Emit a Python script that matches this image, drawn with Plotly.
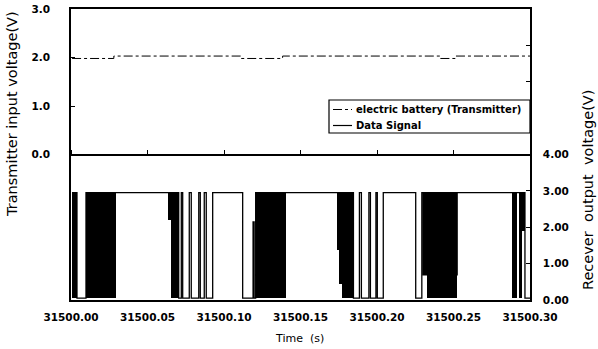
import plotly.graph_objects as go

T0 = 31500.0

# Data Signal (receiver output): step transitions, time offset from T0 (s) and level after the step (V)
sig_t = [0.0007, 0.0039, 0.0098, 0.0704, 0.0721, 0.0730, 0.0773, 0.0786, 0.0835, 0.0845,
         0.0871, 0.0884, 0.0926, 0.1122, 0.1190, 0.1197, 0.1207, 0.1846, 0.1885, 0.1898,
         0.1947, 0.1957, 0.1993, 0.2002, 0.2041, 0.2253, 0.2293, 0.2302, 0.2524, 0.2967, 0.3000]
sig_v = [2.95, 0.05, 2.95, 0.05, 2.95, 0.05, 2.95, 0.05, 2.95, 0.05,
         2.95, 0.05, 2.95, 0.05, 2.15, 0.05, 2.95, 0.05, 2.95, 0.05,
         2.95, 0.05, 2.95, 0.05, 2.95, 0.05, 2.95, 0.69, 2.95, 0.05, 0.05]

# Dense toggling bursts of the Data Signal: start, end (time offset) and lowest level reached (V)
burst_t0 = [0.0007, 0.0098, 0.0633, 0.0652, 0.1207, 0.1741, 0.1751, 0.1774, 0.2302, 0.2328, 0.2883, 0.2928, 0.2948]
burst_t1 = [0.0039, 0.0293, 0.0652, 0.0704, 0.1402, 0.1751, 0.1774, 0.1846, 0.2328, 0.2524, 0.2915, 0.2948, 0.2967]
burst_lo = [0.05, 0.05, 2.20, 0.05, 0.05, 1.38, 0.45, 0.05, 0.69, 0.05, 0.05, 0.05, 1.90]
burst_hi = [2.98, 2.98, 2.98, 2.98, 2.98, 2.98, 2.98, 2.98, 2.98, 2.98, 2.98, 2.98, 2.98]

# electric battery (Transmitter) input voltage
bat_t = [0.0007, 0.0280, 0.1109, 0.1383, 0.2413, 0.2511, 0.3000]
bat_v = [1.98, 2.03, 1.98, 2.03, 1.98, 2.03, 2.03]

# Axis ticks
x_ticks = [31500.00, 31500.05, 31500.10, 31500.15, 31500.20, 31500.25, 31500.30]
x_labels = ["31500.00", "31500.05", "31500.10", "31500.15", "31500.20", "31500.25", "31500.30"]
yl_ticks = [0, 1, 2, 3]
yl_labels = ["0.0", "1.0", "2.0", "3.0"]
yr_ticks = [0, 1, 2, 3, 4, 5, 6, 7]
yr_labels = ["0.00", "1.00", "2.00", "3.00", "4.00", "", "", ""]

legend_names = ["electric battery (Transmitter)", "Data Signal"]
legend_dash = ["dashdot", "solid"]

FONT = "DejaVu Sans"

fig = go.Figure()

fig.add_trace(go.Scatter(
    x=[T0 + t for t in bat_t], y=bat_v, mode="lines", line_shape="hv",
    line=dict(color="black", width=1, dash="dashdot"),
    name=legend_names[0], showlegend=False, xaxis="x", yaxis="y"))

fig.add_trace(go.Scatter(
    x=[T0 + t for t in sig_t], y=sig_v, mode="lines", line_shape="hv",
    line=dict(color="black", width=1.3),
    name=legend_names[1], showlegend=False, xaxis="x", yaxis="y2"))

fig.add_trace(go.Bar(
    x=[T0 + (a + b) / 2 for a, b in zip(burst_t0, burst_t1)],
    width=[b - a for a, b in zip(burst_t0, burst_t1)],
    base=burst_lo,
    y=[h - l for h, l in zip(burst_hi, burst_lo)],
    marker=dict(color="black", line=dict(width=0)),
    showlegend=False, hoverinfo="skip", xaxis="x", yaxis="y2"))

# helper axis for the middle dividing line with its ticks
fig.add_trace(go.Scatter(x=[], y=[], xaxis="x2", yaxis="y", showlegend=False))

axis_common = dict(showgrid=False, zeroline=False, linecolor="black", linewidth=1.5,
                   tickcolor="black", automargin=False,
                   tickfont=dict(family=FONT, size=10.5, color="black", weight="bold"))

# hand-built legend box (compact, like the reference)
PX_L, PX_T, PW, PH = 71, 9, 459, 291
def px(x):
    return (x - PX_L) / PW
def py(y):
    return (PX_T + PH - y) / PH

shapes = [dict(type="rect", xref="paper", yref="paper", x0=px(329), x1=1.0, y0=py(133), y1=py(100),
               line=dict(color="black", width=1.2), fillcolor="white", layer="above")]
annotations = []
for i, (nm, ds) in enumerate(zip(legend_names, legend_dash)):
    yy = py(109.5 + 16 * i)
    shapes.append(dict(type="line", xref="paper", yref="paper", x0=px(333), x1=px(352), y0=yy, y1=yy,
                       line=dict(color="black", width=1.2, dash=ds), layer="above"))
    annotations.append(dict(text=nm, xref="paper", yref="paper", x=px(354), y=yy,
                            xanchor="left", yanchor="middle", showarrow=False,
                            font=dict(family=FONT, size=10, color="black", weight="bold")))

annotations += [
    dict(text="Transmitter input voltage(V)", xref="paper", yref="paper",
         x=px(12), y=py(114), xanchor="center", yanchor="middle", textangle=-90,
         showarrow=False, font=dict(family=FONT, size=14.5, color="black")),
    dict(text="Recever  output  voltage(V)", xref="paper", yref="paper",
         x=px(588), y=py(190), xanchor="center", yanchor="middle", textangle=-90,
         showarrow=False, font=dict(family=FONT, size=14.5, color="black")),
    dict(text="Time  (s)", xref="paper", yref="paper",
         x=px(299), y=py(338), xanchor="center", yanchor="middle",
         showarrow=False, font=dict(family=FONT, size=11, color="black")),
]

fig.update_layout(
    width=598, height=349,
    margin=dict(l=71, r=68, t=9, b=49),
    plot_bgcolor="white", paper_bgcolor="white",
    barmode="overlay", bargap=0, showlegend=False,
    xaxis=dict(range=[31500.0, 31500.3], tickvals=x_ticks, ticktext=x_labels,
               showline=True, mirror=True, ticks="", ticklabelstandoff=7, **axis_common),
    xaxis2=dict(range=[31500.0, 31500.3], overlaying="x", anchor="free", position=0.5,
                side="top", tickvals=x_ticks, showticklabels=False, showline=True,
                ticks="outside", ticklen=4, **axis_common),
    yaxis=dict(range=[-3, 3], tickvals=yl_ticks, ticktext=yl_labels, showline=True,
               ticks="inside", ticklen=4, ticklabelstandoff=17, **axis_common),
    yaxis2=dict(range=[0, 8], overlaying="y", side="right", tickvals=yr_ticks,
                ticktext=yr_labels, showline=True, ticks="inside", ticklen=4,
                ticklabelstandoff=9, **axis_common),
    shapes=shapes,
    annotations=annotations,
)

fig.write_html("out.html")
